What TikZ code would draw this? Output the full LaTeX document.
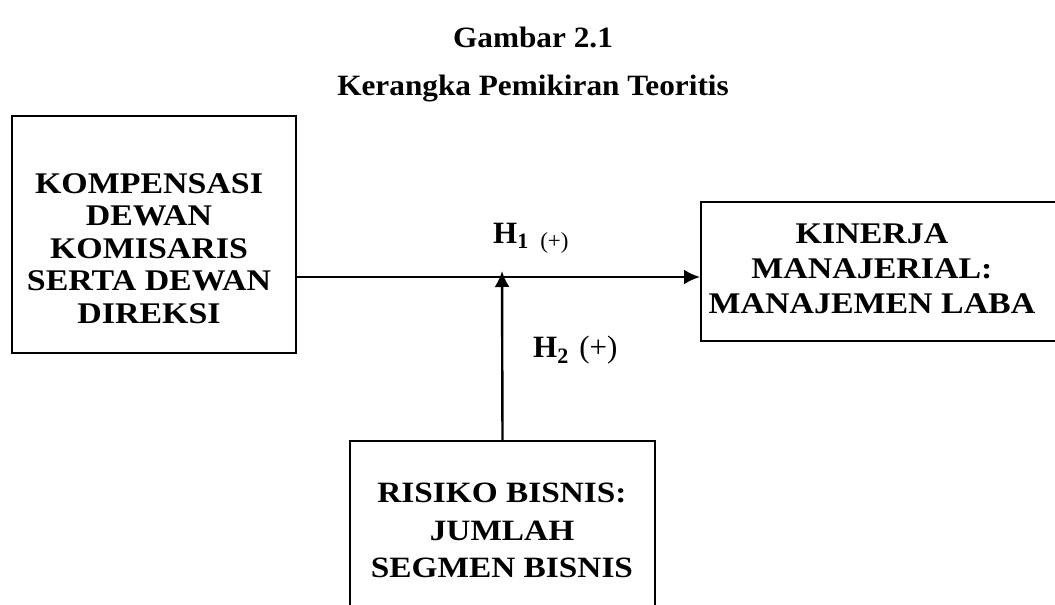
\documentclass[tikz,border=0pt]{standalone}
\usepackage{fontspec}
\setmainfont{Liberation Serif}
\newfontfamily\boxserif[FakeStretch=1.13]{Liberation Serif}
\newfontfamily\headserif[FakeStretch=1.06]{Liberation Serif}
\usetikzlibrary{arrows.meta}

\begin{document}
\begin{tikzpicture}[x=1pt,y=-1pt,
    varbox/.style={draw,line width=2pt,inner sep=0pt},
    vartext/.style={align=center,inner sep=0pt},
    head/.style={font=\headserif\bfseries\fontsize{29.5}{33}\selectfont,inner sep=0pt,anchor=base},
    hyp/.style={font=\bfseries\fontsize{31}{33}\selectfont,inner sep=0pt,anchor=base west},
    link/.style={line width=2.4pt,-{Latex[length=16pt,width=15pt]}}]
  \useasboundingbox (0,0) rectangle (1055,605);
  % judul
  \node[head] (fig) at (533,47) {Gambar 2.1};
  \node[head] (title) at (533,95) {Kerangka Pemikiran Teoritis};
  % variabel
  \node[varbox,minimum width=284,minimum height=237] (komp) at (154,234.5) {};
  \node[vartext,font=\boxserif\bfseries\fontsize{30}{32.5}\selectfont] (kompT) at (149,248.5)
    {KOMPENSASI\\DEWAN\\KOMISARIS\\SERTA DEWAN\\DIREKSI};
  \node[varbox,minimum width=364,minimum height=139] (kin) at (883,271.5) {};
  \node[vartext,font=\boxserif\bfseries\fontsize{30}{35}\selectfont] (kinT) at (872,268.3)
    {KINERJA\\MANAJERIAL:\\MANAJEMEN LABA};
  \node[varbox,minimum width=305,minimum height=174] (risk) at (502.5,528) {};
  \node[vartext,font=\boxserif\bfseries\fontsize{29.5}{37.5}\selectfont] (riskT) at (502,530.8)
    {RISIKO BISNIS:\\JUMLAH\\SEGMEN BISNIS};
  % hubungan
  \coordinate (meet) at (502,277);
  \coordinate (tip) at (502,271);
  \draw[link] (meet -| komp.east) -- (meet -| kin.west);
  \draw[link] (risk.north) -- (tip);
  \node[hyp] (h1) at (493,243) {H\lower5pt\hbox{\fontsize{22}{22}\selectfont 1}\hspace{12pt}\lower5pt\hbox{\mdseries\fontsize{23}{23}\selectfont(+)}};
  \node[hyp] (h2) at (533,357) {H\lower6pt\hbox{\fontsize{22}{22}\selectfont 2}\hspace{11pt}\mdseries(+)};
\end{tikzpicture}
\end{document}
